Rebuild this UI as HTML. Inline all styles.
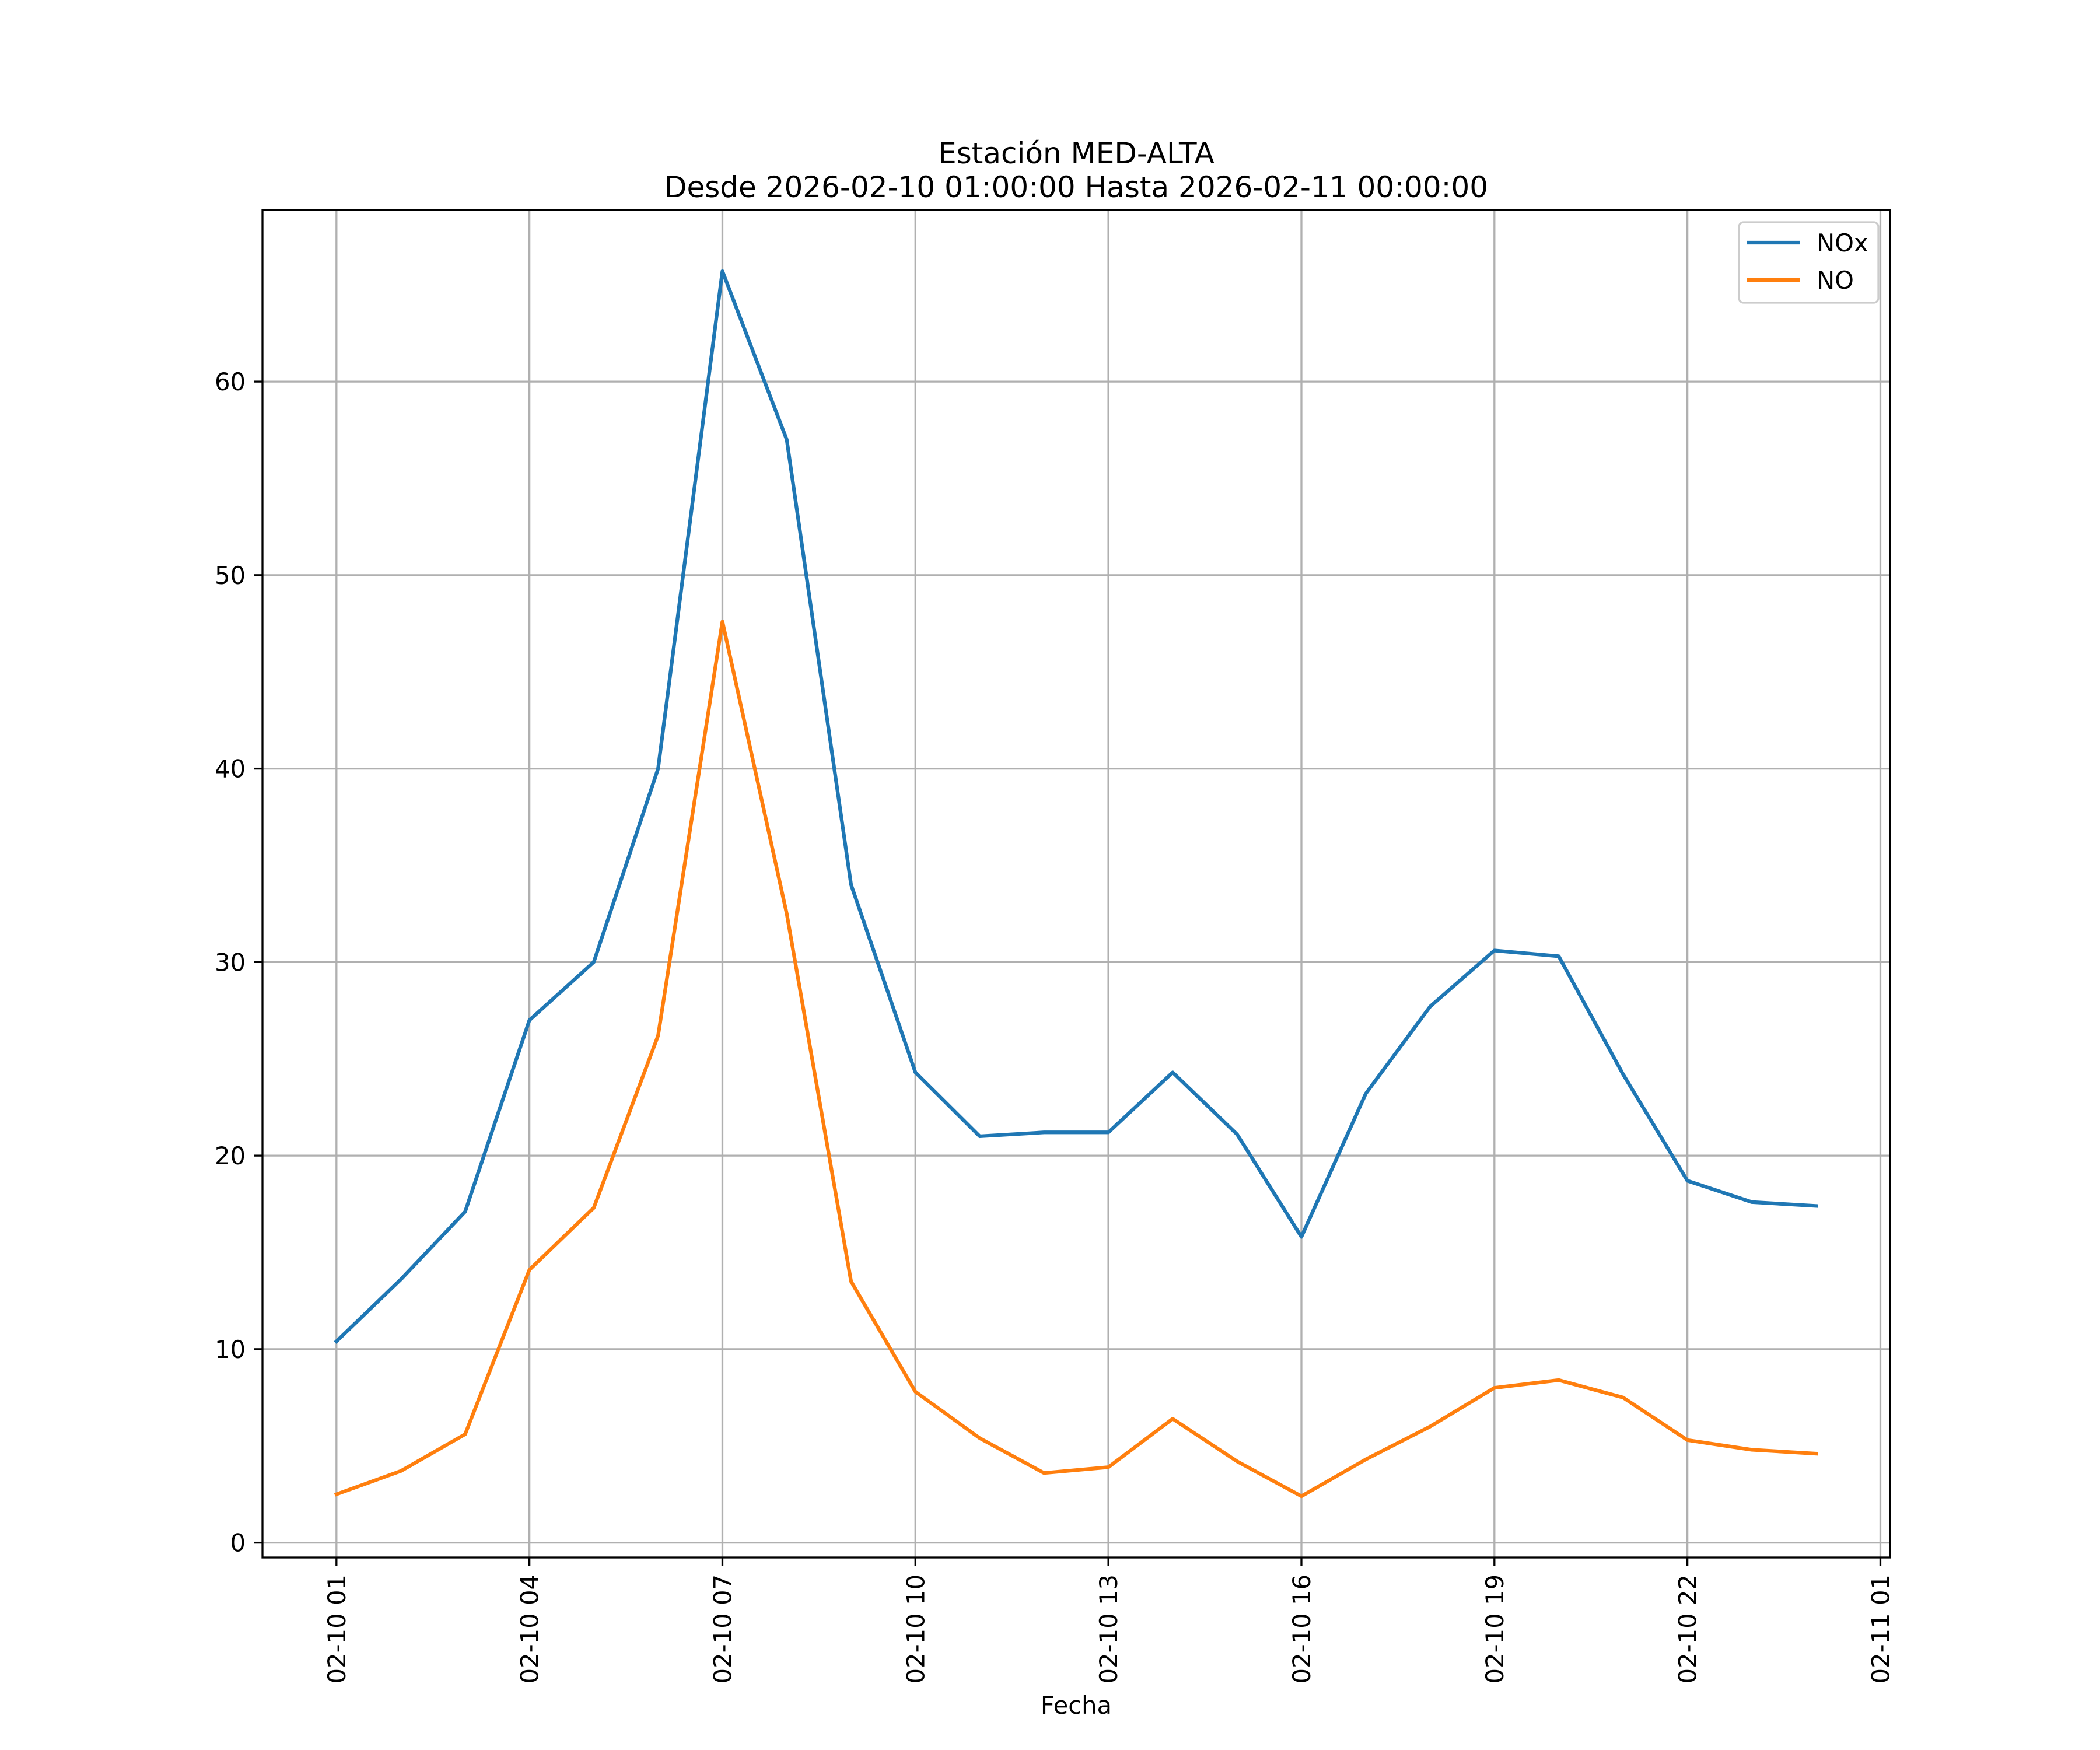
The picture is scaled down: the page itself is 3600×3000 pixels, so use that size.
<!DOCTYPE html>
<html><head><meta charset="utf-8"><style>
html,body{margin:0;padding:0;background:#fff;}
svg{display:block;font-family:"DejaVu Sans","Liberation Sans",sans-serif;}
</style></head><body>
<svg id="chart" width="3600" height="3000" viewBox="0 0 3600 3000">
<rect width="3600" height="3000" fill="#fff"/>
<text x="1845" y="280" font-size="50" text-anchor="middle">Estación MED-ALTA</text>
<text x="1845" y="338" font-size="50" text-anchor="middle">Desde 2026-02-10 01:00:00 Hasta 2026-02-11 00:00:00</text>
<g id="grid"></g><g id="series"></g>
<rect x="450" y="360" width="2790" height="2310" fill="none" stroke="#000" stroke-width="3.3"/>
<g id="ticks"></g>
<text x="1845" y="2938" font-size="41.7" text-anchor="middle">Fecha</text>
<g>
<rect x="2981" y="381" width="239" height="138" rx="8" fill="#fff" fill-opacity="0.8" stroke="#ccc" stroke-width="3.3"/>
<line x1="2995" y1="416" x2="3086" y2="416" stroke="#1f77b4" stroke-width="6.25"/>
<text x="3114" y="431" font-size="41.7">NOx</text>
<line x1="2995" y1="480" x2="3086" y2="480" stroke="#ff7f0e" stroke-width="6.25"/>
<text x="3114" y="495" font-size="41.7">NO</text>
</g>
</svg>
<script>
const hours=[1,2,3,4,5,6,7,8,9,10,11,12,13,14,15,16,17,18,19,20,21,22,23,24];
const noxValues=[10.4,13.6,17.1,27,30,40,65.7,57,34,24.3,21,21.2,21.2,24.3,21.1,15.8,23.2,27.7,30.6,30.3,24.2,18.7,17.6,17.4];
const noValues=[2.5,3.7,5.6,14.1,17.3,26.2,47.6,32.5,13.5,7.8,5.4,3.6,3.9,6.4,4.2,2.4,4.3,6,8,8.4,7.5,5.3,4.8,4.6];
const xTickHours=[1,4,7,10,13,16,19,22,25];
const xTickLabels=["02-10 01","02-10 04","02-10 07","02-10 10","02-10 13","02-10 16","02-10 19","02-10 22","02-11 01"];
const yTicks=[0,10,20,30,40,50,60];
const L=450,R=3240,T=360,B=2670;
const allV=noxValues.concat(noValues);
const vmin=Math.min(...allV),vmax=Math.max(...allV);
const x0=hours[0]-(hours[hours.length-1]-hours[0])*0.05,x1=hours[hours.length-1]+(hours[hours.length-1]-hours[0])*0.05;
const y0=vmin-(vmax-vmin)*0.05,y1=vmax+(vmax-vmin)*0.05;
const X=h=>L+(h-x0)/(x1-x0)*(R-L);
const Y=v=>B-(v-y0)/(y1-y0)*(B-T);
const NS="http://www.w3.org/2000/svg";
function mk(tag,attrs,parent){const e=document.createElementNS(NS,tag);for(const k in attrs)e.setAttribute(k,attrs[k]);parent.appendChild(e);return e;}
const grid=document.getElementById('grid'),ticks=document.getElementById('ticks'),series=document.getElementById('series');
xTickHours.forEach((h,i)=>{const x=X(h);
 const g=mk('line',{x1:x,x2:x,y1:T,y2:B,stroke:'#b0b0b0','stroke-width':3.3},grid);
 
 
 mk('line',{x1:x,x2:x,y1:B,y2:B+14.6,stroke:'#000','stroke-width':3.3},ticks);
 const t=mk('text',{x:0,y:0,'font-size':41.7,'text-anchor':'end',transform:`translate(${x+15},${B+29}) rotate(-90)`},ticks);
 t.textContent=xTickLabels[i];
 
 
});
yTicks.forEach(v=>{const y=Y(v);
 const g=mk('line',{x1:L,x2:R,y1:y,y2:y,stroke:'#b0b0b0','stroke-width':3.3},grid);
 
 
 mk('line',{x1:L-14.6,x2:L,y1:y,y2:y,stroke:'#000','stroke-width':3.3},ticks);
 const t=mk('text',{x:L-29,y:y+15,'font-size':41.7,'text-anchor':'end'},ticks);
 t.textContent=v;
 
 
});
function line(vals,color,name){
 const p=mk('polyline',{points:vals.map((v,i)=>X(hours[i])+','+Y(v)).join(' '),fill:'none',stroke:color,'stroke-width':6.25,'stroke-linejoin':'round','stroke-linecap':'square'},series);
 
 
}
line(noxValues,'#1f77b4','nox-line');
line(noValues,'#ff7f0e','no-line');
</script>
</body></html>
